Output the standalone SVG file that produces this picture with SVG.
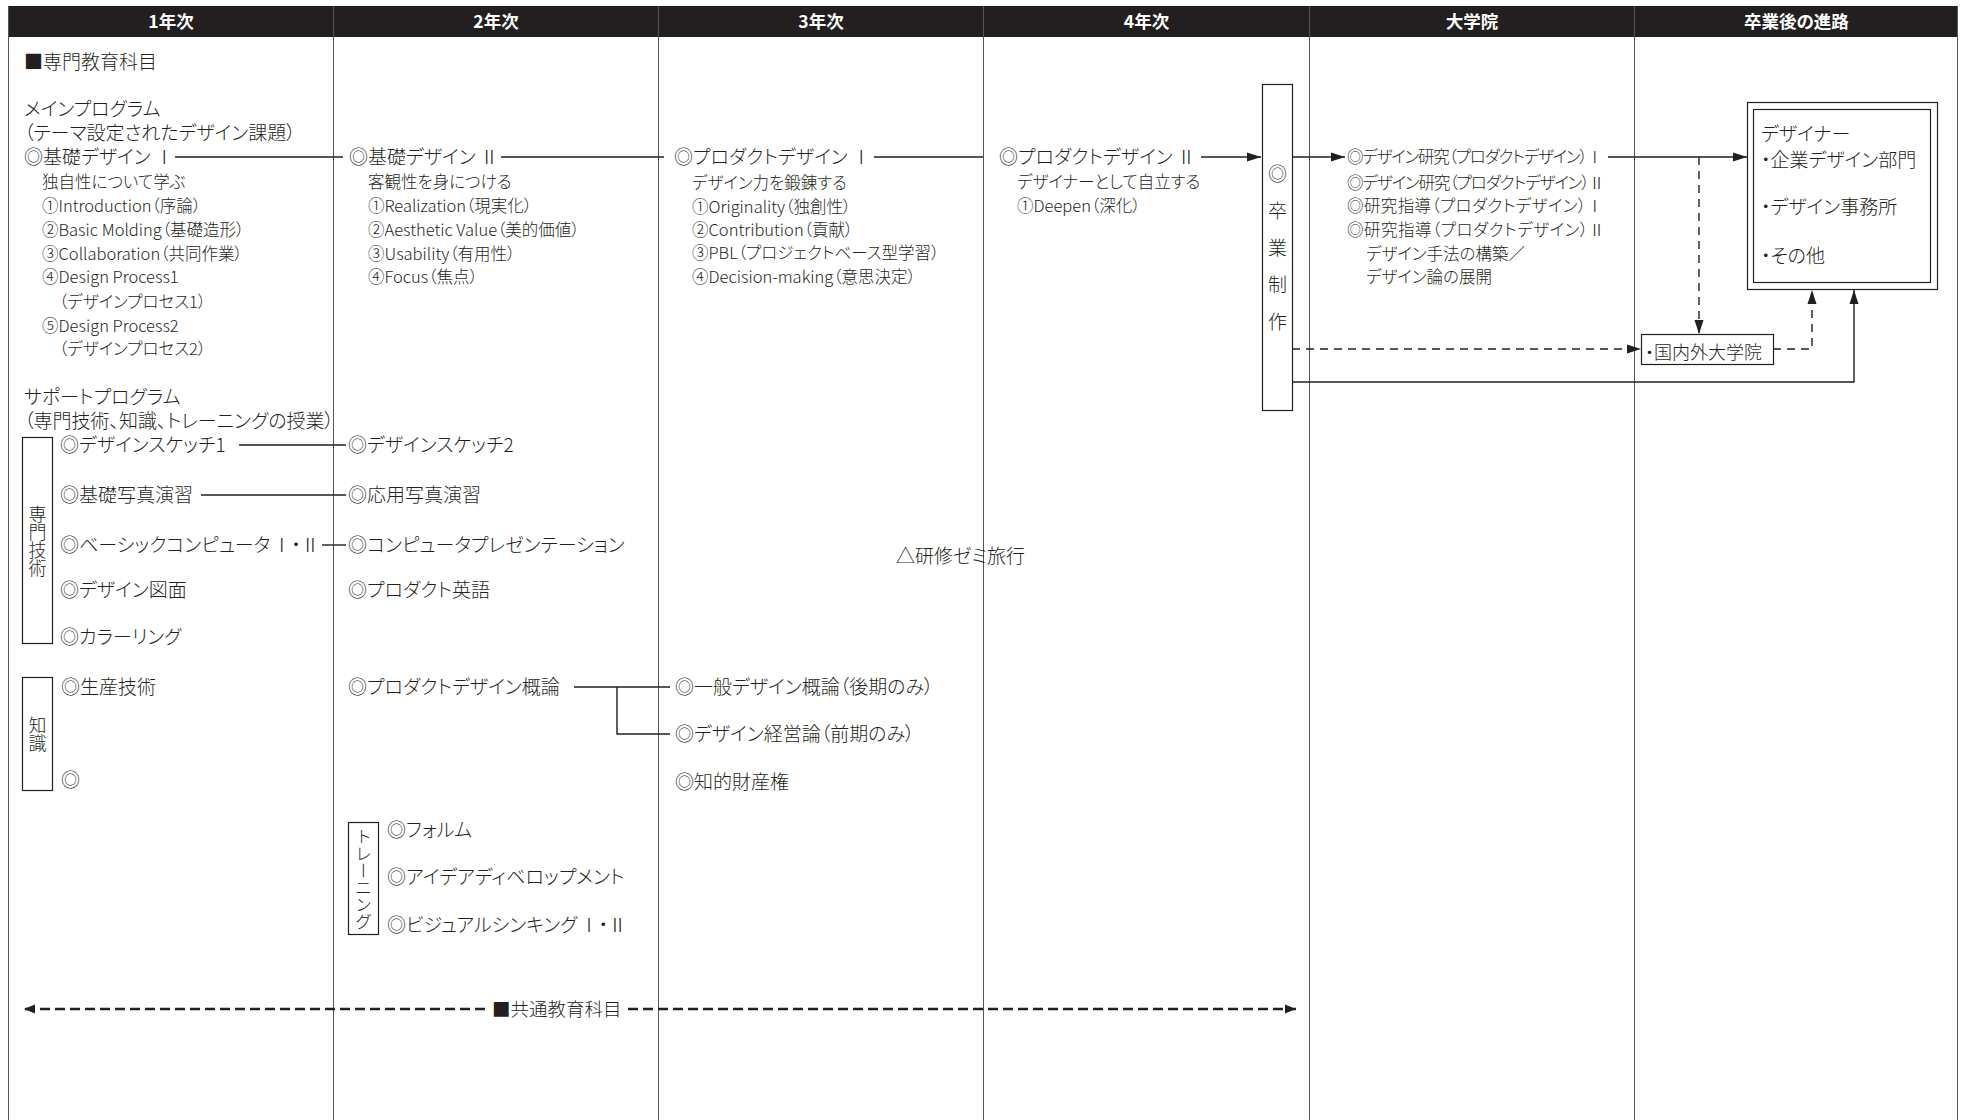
<svg xmlns="http://www.w3.org/2000/svg" width="1966" height="1120" viewBox="0 0 1966 1120">
<style>
text { font-family: "Noto Sans CJK JP", "Noto Sans", sans-serif; fill: #231f20; font-feature-settings: "palt"; font-weight: 300; }
.h { fill: #ffffff; font-size: 17.5px; font-weight: bold; text-anchor: middle; }
.m { font-size: 19px; }
.s { font-size: 16.5px; }
.g { font-size: 16.5px; }
.v { writing-mode: vertical-rl; font-feature-settings: normal; font-size: 18px; }
.col { stroke: #555; stroke-width: 1; fill: none; }
.ln { stroke: #231f20; stroke-width: 1.4; fill: none; }
.dl { stroke: #231f20; stroke-width: 1.4; fill: none; stroke-dasharray: 8 6; }
.cd { stroke: #231f20; stroke-width: 2.6; fill: none; stroke-dasharray: 10 5; }
.box { fill: #ffffff; stroke: #231f20; stroke-width: 1.2; }
</style>
<defs>
<marker id="ah" markerUnits="userSpaceOnUse" markerWidth="14" markerHeight="10" refX="14" refY="5" orient="auto">
<path d="M0,0.5 L14,5 L0,9.5 z" fill="#231f20"/>
</marker>
<marker id="ahs" markerUnits="userSpaceOnUse" markerWidth="12" markerHeight="10" refX="11" refY="5" orient="auto">
<path d="M0,0.5 L11,5 L0,9.5 z" fill="#231f20"/>
</marker>
</defs>
<rect x="0" y="0" width="1966" height="1120" fill="#ffffff"/>

<g id="frame">
<rect x="8" y="6" width="1950" height="31" fill="#231f20"/>
<line class="col" x1="8.5" y1="6" x2="8.5" y2="1120"/>
<line class="col" x1="1957.5" y1="6" x2="1957.5" y2="1120"/>
<line class="col" x1="333.5" y1="6" x2="333.5" y2="1120"/>
<line class="col" x1="658.5" y1="6" x2="658.5" y2="1120"/>
<line class="col" x1="983.5" y1="6" x2="983.5" y2="1120"/>
<line class="col" x1="1309.5" y1="6" x2="1309.5" y2="1120"/>
<line class="col" x1="1634.5" y1="6" x2="1634.5" y2="1120"/>
<text class="h" x="171" y="28">1年次</text>
<text class="h" x="496" y="28">2年次</text>
<text class="h" x="821" y="28">3年次</text>
<text class="h" x="1146.5" y="28">4年次</text>
<text class="h" x="1472" y="28">大学院</text>
<text class="h" x="1796.5" y="28">卒業後の進路</text>
</g>

<g id="connectors">
<path class="ln" d="M175,157 H343"/>
<path class="ln" d="M501,157 H664"/>
<path class="ln" d="M874,157 H983"/>
<path class="ln" d="M1201,157 H1261" marker-end="url(#ah)"/>
<path class="ln" d="M1292,157 H1345" marker-end="url(#ah)"/>
<path class="ln" d="M1608,157 H1747" marker-end="url(#ah)"/>
<path class="dl" d="M1699,157 V334" marker-end="url(#ah)"/>
<path class="dl" d="M1292,349 H1641" marker-end="url(#ah)"/>
<path class="dl" d="M1773,349 H1812 V290" marker-end="url(#ah)"/>
<path class="ln" d="M1292,382 H1854 V290" marker-end="url(#ah)"/>
<path class="ln" d="M239,445 H346"/>
<path class="ln" d="M201,495 H346"/>
<path class="ln" d="M322,545 H346"/>
<path class="ln" d="M574,687 H670"/>
<path class="ln" d="M617,687 V734 H670"/>
<path class="cd" d="M485,1009 H24" marker-end="url(#ahs)"/>
<path class="cd" d="M628,1009 H1296" marker-end="url(#ahs)"/>
</g>

<g id="year1">
<text class="m" x="24" y="69">■専門教育科目</text>
<text class="m" x="24" y="116">メインプログラム</text>
<text class="m" x="24" y="140">（テーマ設定されたデザイン課題）</text>
<text class="m" x="24" y="164">◎基礎デザイン<tspan dx="4">Ⅰ</tspan></text>
<text class="s" x="42" y="188">独自性について学ぶ</text>
<text class="s" x="42" y="212">①Introduction（序論）</text>
<text class="s" x="42" y="236">②Basic Molding（基礎造形）</text>
<text class="s" x="42" y="260">③Collaboration（共同作業）</text>
<text class="s" x="42" y="283">④Design Process1</text>
<text class="s" x="59" y="308">（デザインプロセス1）</text>
<text class="s" x="42" y="332">⑤Design Process2</text>
<text class="s" x="59" y="355">（デザインプロセス2）</text>
<text class="m" x="24" y="404">サポートプログラム</text>
<text class="m" x="24" y="428">（専門技術、知識、トレーニングの授業）</text>
</g>

<g id="senmon-gijutsu">
<rect class="box" x="22.5" y="437.5" width="30" height="206"/>
<text class="v" x="37.5" y="541" text-anchor="middle">専門技術</text>
<text class="m" x="60" y="452">◎デザインスケッチ1</text>
<text class="m" x="60" y="502">◎基礎写真演習</text>
<text class="m" x="60" y="552">◎ベーシックコンピュータ<tspan dx="2">Ⅰ・Ⅱ</tspan></text>
<text class="m" x="60" y="597">◎デザイン図面</text>
<text class="m" x="60" y="644">◎カラーリング</text>
</g>

<g id="chishiki">
<rect class="box" x="22.5" y="677.5" width="30" height="113"/>
<text class="v" x="37.5" y="734" text-anchor="middle">知識</text>
<text class="m" x="61" y="694">◎生産技術</text>
<text class="m" x="61" y="787">◎</text>
</g>

<g id="year2">
<text class="m" x="349" y="164">◎基礎デザイン<tspan dx="4">Ⅱ</tspan></text>
<text class="s" x="368" y="188">客観性を身につける</text>
<text class="s" x="368" y="212">①Realization（現実化）</text>
<text class="s" x="368" y="236">②Aesthetic Value（美的価値）</text>
<text class="s" x="368" y="260">③Usability（有用性）</text>
<text class="s" x="368" y="283">④Focus（焦点）</text>
<text class="m" x="348" y="452">◎デザインスケッチ2</text>
<text class="m" x="348" y="502">◎応用写真演習</text>
<text class="m" x="348" y="552">◎コンピュータプレゼンテーション</text>
<text class="m" x="348" y="597">◎プロダクト英語</text>
<text class="m" x="348" y="694">◎プロダクトデザイン概論</text>
</g>

<g id="training">
<rect class="box" x="348.5" y="822.5" width="30" height="112"/>
<text class="v" x="363.5" y="879" text-anchor="middle" style="font-size:17px">トレーニング</text>
<text class="m" x="387" y="837">◎フォルム</text>
<text class="m" x="387" y="884">◎アイデアディベロップメント</text>
<text class="m" x="387" y="932">◎ビジュアルシンキング<tspan dx="2">Ⅰ・Ⅱ</tspan></text>
</g>

<g id="year3">
<text class="m" x="674" y="164">◎プロダクトデザイン<tspan dx="4">Ⅰ</tspan></text>
<text class="s" x="692" y="189">デザイン力を鍛錬する</text>
<text class="s" x="692" y="213">①Originality（独創性）</text>
<text class="s" x="692" y="236">②Contribution（貢献）</text>
<text class="s" x="692" y="259">③PBL（プロジェクトベース型学習）</text>
<text class="s" x="692" y="283">④Decision-making（意思決定）</text>
<text class="m" x="675" y="694">◎一般デザイン概論（後期のみ）</text>
<text class="m" x="675" y="741">◎デザイン経営論（前期のみ）</text>
<text class="m" x="675" y="789">◎知的財産権</text>
<text class="m" x="896" y="563">△研修ゼミ旅行</text>
</g>

<g id="year4">
<text class="m" x="999" y="164">◎プロダクトデザイン<tspan dx="4">Ⅱ</tspan></text>
<text class="s" x="1017" y="188">デザイナーとして自立する</text>
<text class="s" x="1017" y="212">①Deepen（深化）</text>
</g>

<g id="sotsugyo-seisaku">
<rect class="box" x="1262.5" y="84.5" width="30" height="326"/>
<text class="v" x="1277.5" y="164" style="font-size:19px; letter-spacing:18px">◎卒業制作</text>
</g>

<g id="graduate">
<text class="g" x="1347" y="163" textLength="256">◎デザイン研究（プロダクトデザイン）Ⅰ</text>
<text class="g" x="1347" y="188.5" textLength="258">◎デザイン研究（プロダクトデザイン）Ⅱ</text>
<text class="g" x="1347" y="211.5" textLength="256">◎研究指導（プロダクトデザイン）Ⅰ</text>
<text class="g" x="1347" y="235.5" textLength="258">◎研究指導（プロダクトデザイン）Ⅱ</text>
<text class="s" x="1366" y="260">デザイン手法の構築／</text>
<text class="s" x="1366" y="283">デザイン論の展開</text>
</g>

<g id="designer">
<rect class="box" x="1747.5" y="102.5" width="190" height="187"/>
<rect class="box" x="1753.5" y="109.5" width="177" height="173"/>
<text class="m" x="1761" y="141">デザイナー</text>
<text class="m" x="1761" y="167">・企業デザイン部門</text>
<text class="m" x="1761" y="214">・デザイン事務所</text>
<text class="m" x="1761" y="263">・その他</text>
</g>

<g id="overseas-grad">
<rect class="box" x="1641.5" y="334.5" width="132" height="30"/>
<text x="1645" y="358.5" style="font-size:18px">・国内外大学院</text>
</g>

<g id="common">
<text x="492" y="1016" style="font-size:18.5px">■共通教育科目</text>
</g>
</svg>
